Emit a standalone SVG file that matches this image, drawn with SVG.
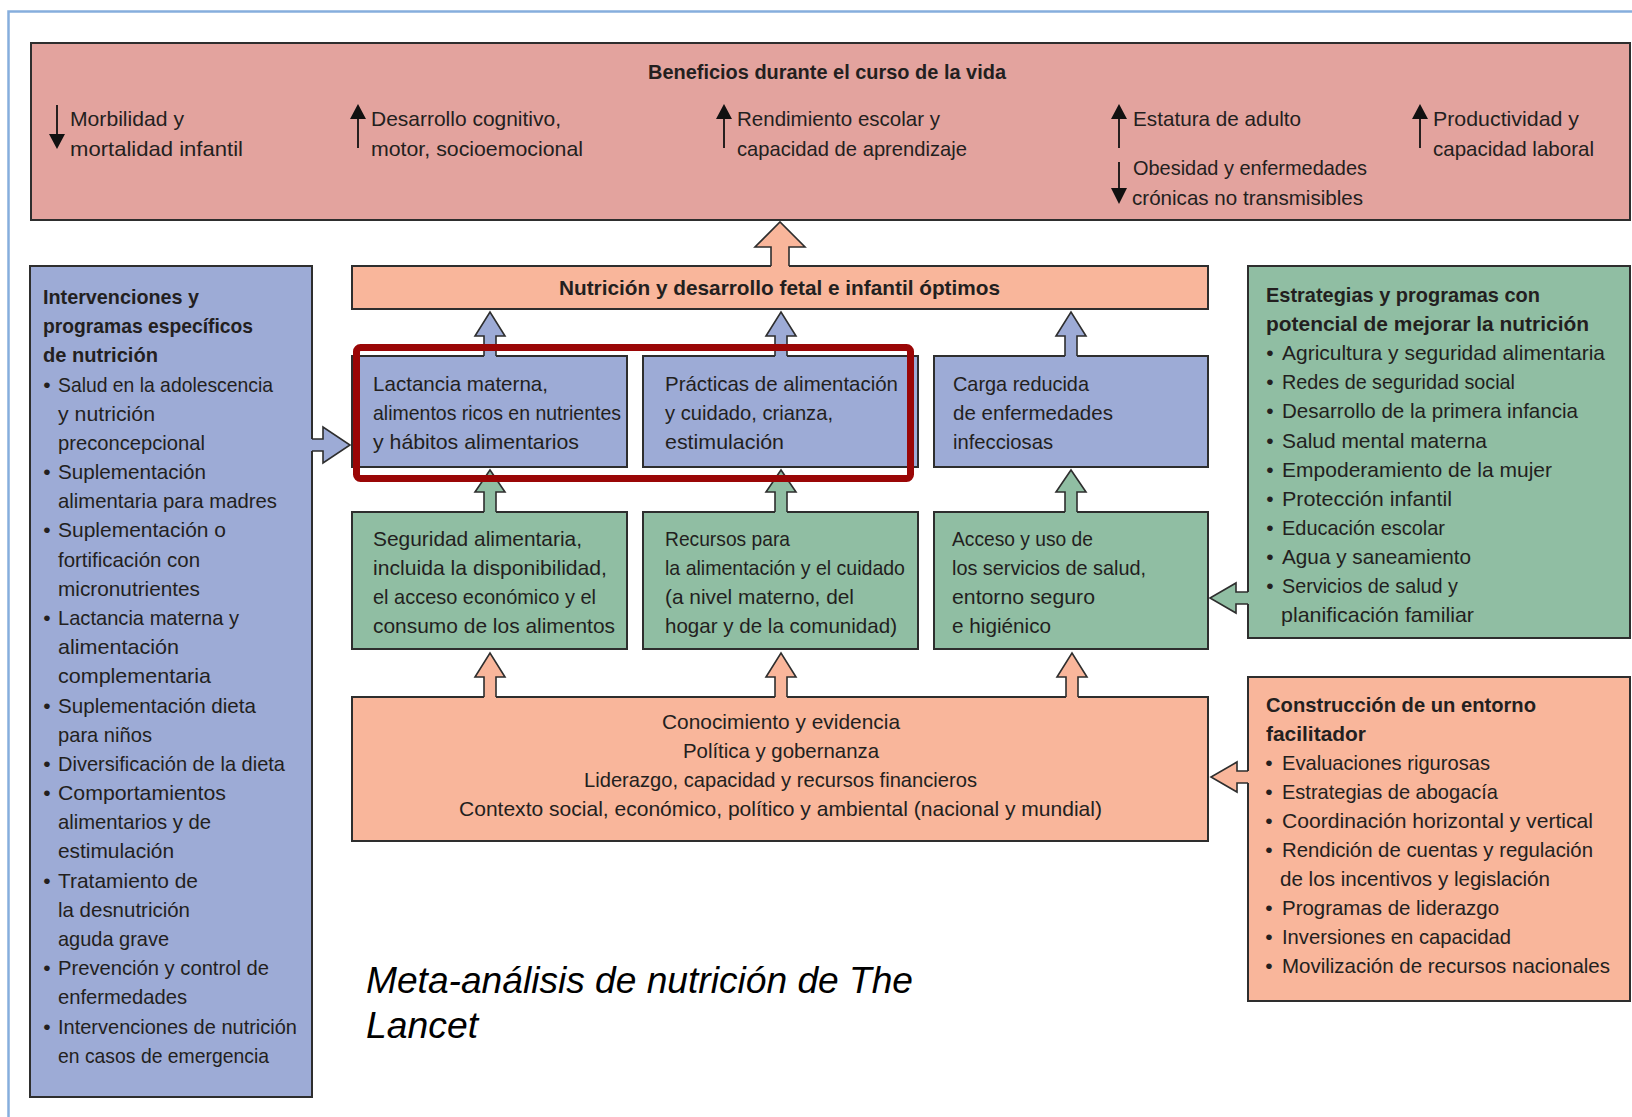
<svg xmlns="http://www.w3.org/2000/svg" width="1632" height="1117" viewBox="0 0 1632 1117">
<style>
.bx{stroke:#2e2e2e;stroke-width:2}
.pink{fill:#e3a39e}
.peach{fill:#f9b69b}
.blue{fill:#9dabd6}
.green{fill:#90bea3}
text{font-family:"Liberation Sans",Arial,sans-serif;font-size:21px;fill:#231f20}
.b{font-weight:bold}
.bul{text-anchor:middle}
.ol{fill:none;stroke:#2e2e2e;stroke-width:1.6;stroke-linejoin:miter}
.thin{stroke:#111;stroke-width:1.8}
.tri{fill:#111}
.cap{font-size:37px;font-style:italic;fill:#000}
</style>
<rect width="1632" height="1117" fill="#fff"/>
<g id="frame"><rect x="8.5" y="11.5" width="1700" height="1200" fill="none" stroke="#86aedd" stroke-width="2.5"/></g>

<g id="benefits">
<rect class="bx pink" x="31" y="43" width="1599" height="177"/>
<text class="b" x="648" y="79" textLength="358" lengthAdjust="spacingAndGlyphs">Beneficios durante el curso de la vida</text>
<line class="thin" x1="57" y1="105" x2="57" y2="136"/><polygon class="tri" points="49,134 65,134 57,149"/>
<text x="70" y="126" textLength="114" lengthAdjust="spacingAndGlyphs">Morbilidad y</text>
<text x="70" y="156" textLength="173" lengthAdjust="spacingAndGlyphs">mortalidad infantil</text>
<line class="thin" x1="358" y1="117" x2="358" y2="148"/><polygon class="tri" points="350,119 366,119 358,104"/>
<text x="371" y="126" textLength="190" lengthAdjust="spacingAndGlyphs">Desarrollo cognitivo,</text>
<text x="371" y="156" textLength="212" lengthAdjust="spacingAndGlyphs">motor, socioemocional</text>
<line class="thin" x1="724" y1="117" x2="724" y2="148"/><polygon class="tri" points="716,119 732,119 724,104"/>
<text x="737" y="126" textLength="203" lengthAdjust="spacingAndGlyphs">Rendimiento escolar y</text>
<text x="737" y="156" textLength="230" lengthAdjust="spacingAndGlyphs">capacidad de aprendizaje</text>
<line class="thin" x1="1119" y1="117" x2="1119" y2="148"/><polygon class="tri" points="1111,119 1127,119 1119,104"/>
<text x="1133" y="126" textLength="168" lengthAdjust="spacingAndGlyphs">Estatura de adulto</text>
<line class="thin" x1="1119" y1="162" x2="1119" y2="190"/><polygon class="tri" points="1111,188 1127,188 1119,204"/>
<text x="1133" y="175" textLength="234" lengthAdjust="spacingAndGlyphs">Obesidad y enfermedades</text>
<text x="1132" y="205" textLength="231" lengthAdjust="spacingAndGlyphs">crónicas no transmisibles</text>
<line class="thin" x1="1420" y1="117" x2="1420" y2="148"/><polygon class="tri" points="1412,119 1428,119 1420,104"/>
<text x="1433" y="126" textLength="146" lengthAdjust="spacingAndGlyphs">Productividad y</text>
<text x="1433" y="156" textLength="161" lengthAdjust="spacingAndGlyphs">capacidad laboral</text>
</g>

<g id="nutricion-optima">
<rect class="bx peach" x="352" y="266" width="856" height="43"/>
<text class="b" x="559" y="295" textLength="441" lengthAdjust="spacingAndGlyphs">Nutrición y desarrollo fetal e infantil óptimos</text>
</g>

<g id="intervenciones">
<rect class="bx blue" x="30" y="266" width="282" height="831"/>
<text class="b" x="43" y="304" textLength="156" lengthAdjust="spacingAndGlyphs">Intervenciones y</text>
<text class="b" x="43" y="333.2" textLength="210" lengthAdjust="spacingAndGlyphs">programas específicos</text>
<text class="b" x="43" y="362.4" textLength="115" lengthAdjust="spacingAndGlyphs">de nutrición</text>
<text class="bul" x="47" y="391.5">•</text><text x="58" y="391.5" textLength="215" lengthAdjust="spacingAndGlyphs">Salud en la adolescencia</text>
<text x="58" y="420.7" textLength="97" lengthAdjust="spacingAndGlyphs">y nutrición</text>
<text x="58" y="449.9" textLength="147" lengthAdjust="spacingAndGlyphs">preconcepcional</text>
<text class="bul" x="47" y="479.1">•</text><text x="58" y="479.1" textLength="148" lengthAdjust="spacingAndGlyphs">Suplementación</text>
<text x="58" y="508.3" textLength="219" lengthAdjust="spacingAndGlyphs">alimentaria para madres</text>
<text class="bul" x="47" y="537.4">•</text><text x="58" y="537.4" textLength="168" lengthAdjust="spacingAndGlyphs">Suplementación o</text>
<text x="58" y="566.6" textLength="142" lengthAdjust="spacingAndGlyphs">fortificación con</text>
<text x="58" y="595.8" textLength="142" lengthAdjust="spacingAndGlyphs">micronutrientes</text>
<text class="bul" x="47" y="625">•</text><text x="58" y="625" textLength="181" lengthAdjust="spacingAndGlyphs">Lactancia materna y</text>
<text x="58" y="654.2" textLength="121" lengthAdjust="spacingAndGlyphs">alimentación</text>
<text x="58" y="683.3" textLength="153" lengthAdjust="spacingAndGlyphs">complementaria</text>
<text class="bul" x="47" y="712.5">•</text><text x="58" y="712.5" textLength="198" lengthAdjust="spacingAndGlyphs">Suplementación dieta</text>
<text x="58" y="741.7" textLength="94" lengthAdjust="spacingAndGlyphs">para niños</text>
<text class="bul" x="47" y="770.9">•</text><text x="58" y="770.9" textLength="227" lengthAdjust="spacingAndGlyphs">Diversificación de la dieta</text>
<text class="bul" x="47" y="800.1">•</text><text x="58" y="800.1" textLength="168" lengthAdjust="spacingAndGlyphs">Comportamientos</text>
<text x="58" y="829.2" textLength="153" lengthAdjust="spacingAndGlyphs">alimentarios y de</text>
<text x="58" y="858.4" textLength="116" lengthAdjust="spacingAndGlyphs">estimulación</text>
<text class="bul" x="47" y="887.6">•</text><text x="58" y="887.6" textLength="140" lengthAdjust="spacingAndGlyphs">Tratamiento de</text>
<text x="58" y="916.8" textLength="132" lengthAdjust="spacingAndGlyphs">la desnutrición</text>
<text x="58" y="946" textLength="111" lengthAdjust="spacingAndGlyphs">aguda grave</text>
<text class="bul" x="47" y="975.1">•</text><text x="58" y="975.1" textLength="211" lengthAdjust="spacingAndGlyphs">Prevención y control de</text>
<text x="58" y="1004.3" textLength="129" lengthAdjust="spacingAndGlyphs">enfermedades</text>
<text class="bul" x="47" y="1033.5">•</text><text x="58" y="1033.5" textLength="239" lengthAdjust="spacingAndGlyphs">Intervenciones de nutrición</text>
<text x="58" y="1062.7" textLength="211" lengthAdjust="spacingAndGlyphs">en casos de emergencia</text>
</g>

<g id="lactancia">
<rect class="bx blue" x="352" y="356" width="275" height="111"/>
<text x="373" y="391" textLength="175" lengthAdjust="spacingAndGlyphs">Lactancia materna,</text>
<text x="373" y="420" textLength="248" lengthAdjust="spacingAndGlyphs">alimentos ricos en nutrientes</text>
<text x="373" y="449" textLength="206" lengthAdjust="spacingAndGlyphs">y hábitos alimentarios</text>
</g>
<g id="practicas">
<rect class="bx blue" x="643" y="356" width="275" height="111"/>
<text x="665" y="391" textLength="233" lengthAdjust="spacingAndGlyphs">Prácticas de alimentación</text>
<text x="665" y="420" textLength="168" lengthAdjust="spacingAndGlyphs">y cuidado, crianza,</text>
<text x="665" y="449" textLength="119" lengthAdjust="spacingAndGlyphs">estimulación</text>
</g>
<g id="carga">
<rect class="bx blue" x="934" y="356" width="274" height="111"/>
<text x="953" y="391" textLength="136" lengthAdjust="spacingAndGlyphs">Carga reducida</text>
<text x="953" y="420" textLength="160" lengthAdjust="spacingAndGlyphs">de enfermedades</text>
<text x="953" y="449" textLength="100" lengthAdjust="spacingAndGlyphs">infecciosas</text>
</g>

<g id="seguridad">
<rect class="bx green" x="352" y="512" width="275" height="137"/>
<text x="373" y="546" textLength="209" lengthAdjust="spacingAndGlyphs">Seguridad alimentaria,</text>
<text x="373" y="575" textLength="234" lengthAdjust="spacingAndGlyphs">incluida la disponibilidad,</text>
<text x="373" y="604" textLength="223" lengthAdjust="spacingAndGlyphs">el acceso económico y el</text>
<text x="373" y="633" textLength="242" lengthAdjust="spacingAndGlyphs">consumo de los alimentos</text>
</g>
<g id="recursos">
<rect class="bx green" x="643" y="512" width="275" height="137"/>
<text x="665" y="546" textLength="125" lengthAdjust="spacingAndGlyphs">Recursos para</text>
<text x="665" y="575" textLength="240" lengthAdjust="spacingAndGlyphs">la alimentación y el cuidado</text>
<text x="665" y="604" textLength="189" lengthAdjust="spacingAndGlyphs">(a nivel materno, del</text>
<text x="665" y="633" textLength="232" lengthAdjust="spacingAndGlyphs">hogar y de la comunidad)</text>
</g>
<g id="acceso">
<rect class="bx green" x="934" y="512" width="274" height="137"/>
<text x="952" y="546" textLength="141" lengthAdjust="spacingAndGlyphs">Acceso y uso de</text>
<text x="952" y="575" textLength="194" lengthAdjust="spacingAndGlyphs">los servicios de salud,</text>
<text x="952" y="604" textLength="143" lengthAdjust="spacingAndGlyphs">entorno seguro</text>
<text x="952" y="633" textLength="99" lengthAdjust="spacingAndGlyphs">e higiénico</text>
</g>

<g id="entorno-base">
<rect class="bx peach" x="352" y="697" width="856" height="144"/>
<text x="662" y="729" textLength="238" lengthAdjust="spacingAndGlyphs">Conocimiento y evidencia</text>
<text x="683" y="758" textLength="196" lengthAdjust="spacingAndGlyphs">Política y gobernanza</text>
<text x="584" y="787" textLength="393" lengthAdjust="spacingAndGlyphs">Liderazgo, capacidad y recursos financieros</text>
<text x="459" y="816" textLength="643" lengthAdjust="spacingAndGlyphs">Contexto social, económico, político y ambiental (nacional y mundial)</text>
</g>

<g id="estrategias">
<rect class="bx green" x="1248" y="266" width="382" height="372"/>
<text class="b" x="1266" y="302" textLength="274" lengthAdjust="spacingAndGlyphs">Estrategias y programas con</text>
<text class="b" x="1266" y="331" textLength="323" lengthAdjust="spacingAndGlyphs">potencial de mejorar la nutrición</text>
<text class="bul" x="1270" y="360">•</text><text x="1282" y="360" textLength="323" lengthAdjust="spacingAndGlyphs">Agricultura y seguridad alimentaria</text>
<text class="bul" x="1270" y="389">•</text><text x="1282" y="389" textLength="233" lengthAdjust="spacingAndGlyphs">Redes de seguridad social</text>
<text class="bul" x="1270" y="418">•</text><text x="1282" y="418" textLength="296" lengthAdjust="spacingAndGlyphs">Desarrollo de la primera infancia</text>
<text class="bul" x="1270" y="447.5">•</text><text x="1282" y="447.5" textLength="205" lengthAdjust="spacingAndGlyphs">Salud mental materna</text>
<text class="bul" x="1270" y="476.5">•</text><text x="1282" y="476.5" textLength="270" lengthAdjust="spacingAndGlyphs">Empoderamiento de la mujer</text>
<text class="bul" x="1270" y="505.5">•</text><text x="1282" y="505.5" textLength="170" lengthAdjust="spacingAndGlyphs">Protección infantil</text>
<text class="bul" x="1270" y="535">•</text><text x="1282" y="535" textLength="163" lengthAdjust="spacingAndGlyphs">Educación escolar</text>
<text class="bul" x="1270" y="564">•</text><text x="1282" y="564" textLength="189" lengthAdjust="spacingAndGlyphs">Agua y saneamiento</text>
<text class="bul" x="1270" y="593">•</text><text x="1282" y="593" textLength="176" lengthAdjust="spacingAndGlyphs">Servicios de salud y</text>
<text x="1281" y="622" textLength="193" lengthAdjust="spacingAndGlyphs">planificación familiar</text>
</g>

<g id="entorno-facilitador">
<rect class="bx peach" x="1248" y="677" width="382" height="324"/>
<text class="b" x="1266" y="712" textLength="270" lengthAdjust="spacingAndGlyphs">Construcción de un entorno</text>
<text class="b" x="1266" y="741" textLength="100" lengthAdjust="spacingAndGlyphs">facilitador</text>
<text class="bul" x="1269" y="770">•</text><text x="1282" y="770" textLength="208" lengthAdjust="spacingAndGlyphs">Evaluaciones rigurosas</text>
<text class="bul" x="1269" y="799">•</text><text x="1282" y="799" textLength="216" lengthAdjust="spacingAndGlyphs">Estrategias de abogacía</text>
<text class="bul" x="1269" y="828">•</text><text x="1282" y="828" textLength="311" lengthAdjust="spacingAndGlyphs">Coordinación horizontal y vertical</text>
<text class="bul" x="1269" y="857">•</text><text x="1282" y="857" textLength="311" lengthAdjust="spacingAndGlyphs">Rendición de cuentas y regulación</text>
<text x="1280" y="886" textLength="270" lengthAdjust="spacingAndGlyphs">de los incentivos y legislación</text>
<text class="bul" x="1269" y="915">•</text><text x="1282" y="915" textLength="217" lengthAdjust="spacingAndGlyphs">Programas de liderazgo</text>
<text class="bul" x="1269" y="944">•</text><text x="1282" y="944" textLength="229" lengthAdjust="spacingAndGlyphs">Inversiones en capacidad</text>
<text class="bul" x="1269" y="973">•</text><text x="1282" y="973" textLength="328" lengthAdjust="spacingAndGlyphs">Movilización de recursos nacionales</text>
</g>

<g id="connectors">
<polygon class="peach" points="771,267.5 771,247 755,247 780,222 805,247 789,247 789,267.5"/>
<polyline class="ol" points="771,266 771,247 755,247 780,222 805,247 789,247 789,266"/>

<polygon class="blue" points="484,357.5 484,336 475,336 490,312 505,336 496,336 496,357.5"/>
<polyline class="ol" points="484,356 484,336 475,336 490,312 505,336 496,336 496,356"/>
<polygon class="blue" points="775,357.5 775,336 766,336 781,312 796,336 787,336 787,357.5"/>
<polyline class="ol" points="775,356 775,336 766,336 781,312 796,336 787,336 787,356"/>
<polygon class="blue" points="1065,357.5 1065,336 1056,336 1071,312 1086,336 1077,336 1077,357.5"/>
<polyline class="ol" points="1065,356 1065,336 1056,336 1071,312 1086,336 1077,336 1077,356"/>

<polygon class="green" points="484,513.5 484,492 475,492 490,470 505,492 496,492 496,513.5"/>
<polyline class="ol" points="484,512 484,492 475,492 490,470 505,492 496,492 496,512"/>
<polygon class="green" points="775,513.5 775,492 766,492 781,470 796,492 787,492 787,513.5"/>
<polyline class="ol" points="775,512 775,492 766,492 781,470 796,492 787,492 787,512"/>
<polygon class="green" points="1065,513.5 1065,492 1056,492 1071,470 1086,492 1077,492 1077,513.5"/>
<polyline class="ol" points="1065,512 1065,492 1056,492 1071,470 1086,492 1077,492 1077,512"/>

<polygon class="peach" points="484,698.5 484,677 475,677 490,653 505,677 496,677 496,698.5"/>
<polyline class="ol" points="484,697 484,677 475,677 490,653 505,677 496,677 496,697"/>
<polygon class="peach" points="775,698.5 775,677 766,677 781,653 796,677 787,677 787,698.5"/>
<polyline class="ol" points="775,697 775,677 766,677 781,653 796,677 787,677 787,697"/>
<polygon class="peach" points="1066,698.5 1066,677 1057,677 1072,653 1087,677 1078,677 1078,698.5"/>
<polyline class="ol" points="1066,697 1066,677 1057,677 1072,653 1087,677 1078,677 1078,697"/>

<polygon class="blue" points="310.5,439 323,439 323,427 350,445 323,463 323,451 310.5,451"/>
<polyline class="ol" points="312,439 323,439 323,427 350,445 323,463 323,451 312,451"/>

<polygon class="green" points="1249.5,592 1236,592 1236,583 1210,598 1236,613 1236,604 1249.5,604"/>
<polyline class="ol" points="1248,592 1236,592 1236,583 1210,598 1236,613 1236,604 1248,604"/>

<polygon class="peach" points="1249.5,771 1237,771 1237,762 1211,777 1237,792 1237,783 1249.5,783"/>
<polyline class="ol" points="1248,771 1237,771 1237,762 1211,777 1237,792 1237,783 1248,783"/>
</g>

<g id="highlight">
<rect x="356.5" y="347.5" width="554" height="131" rx="4" fill="none" stroke="#9a0606" stroke-width="7"/>
</g>

<g id="caption">
<text class="cap" x="366" y="993" textLength="547" lengthAdjust="spacingAndGlyphs">Meta-análisis de nutrición de The</text>
<text class="cap" x="366" y="1038" textLength="112" lengthAdjust="spacingAndGlyphs">Lancet</text>
</g>
</svg>
